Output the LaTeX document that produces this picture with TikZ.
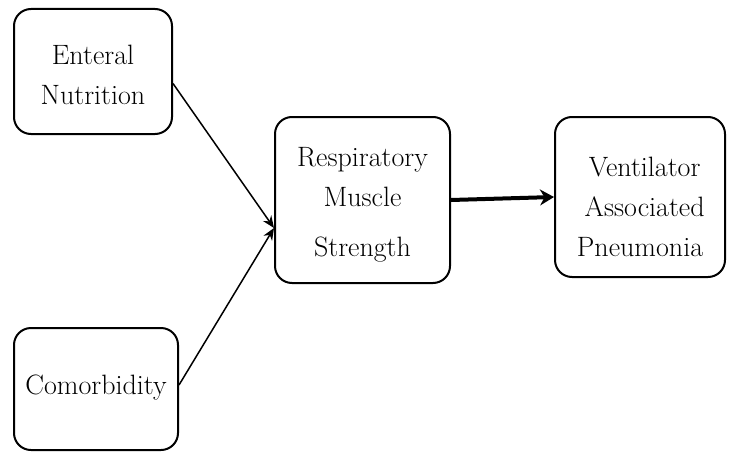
\documentclass[tikz,border=0pt]{standalone}
\usetikzlibrary{arrows.meta}
\begin{document}
\begin{tikzpicture}[x=1pt,y=-1pt,
  box/.style={draw=black, line width=2pt, rounded corners=17pt, fill=white, inner sep=0pt},
  txt/.style={align=center, inner sep=0pt, font=\fontsize{28}{40}\selectfont},
  thin/.style={line width=1.5pt, -{Stealth[length=12pt,width=10pt]}},
  thick/.style={line width=4pt, -{Stealth[length=14pt,width=16pt]}}]
\useasboundingbox (0,0) rectangle (735,452);
\node[box, minimum width=158pt, minimum height=125pt] (EN) at (93,71.5) {};
\node[box, minimum width=164pt, minimum height=122pt] (CO) at (96,389) {};
\node[box, minimum width=175pt, minimum height=166pt] (RM) at (362.5,200) {};
\node[box, minimum width=170pt, minimum height=160pt] (VAP) at (640,197) {};
\node[txt] (ENt) at ([yshift=-3pt]EN.center) {Enteral\\Nutrition};
\node[txt] (COt) at ([yshift=1pt]CO.center) {Comorbidity};
\node[txt] (RMt) at ([yshift=-5pt]RM.center) {Respiratory\\Muscle\\[10pt]Strength};
\node[txt] (VAPt) at ([yshift=-10pt]VAP.center) {\,\,Ventilator\\\,\,Associated\\Pneumonia};
\draw[thin] ([yshift=-12pt]EN.east) -- ([yshift=-28pt]RM.west);
\draw[thin] ([yshift=4pt]CO.east) -- ([yshift=-28pt]RM.west);
\draw[thick] (RM.east) -- (VAP.west);
\end{tikzpicture}
\end{document}
